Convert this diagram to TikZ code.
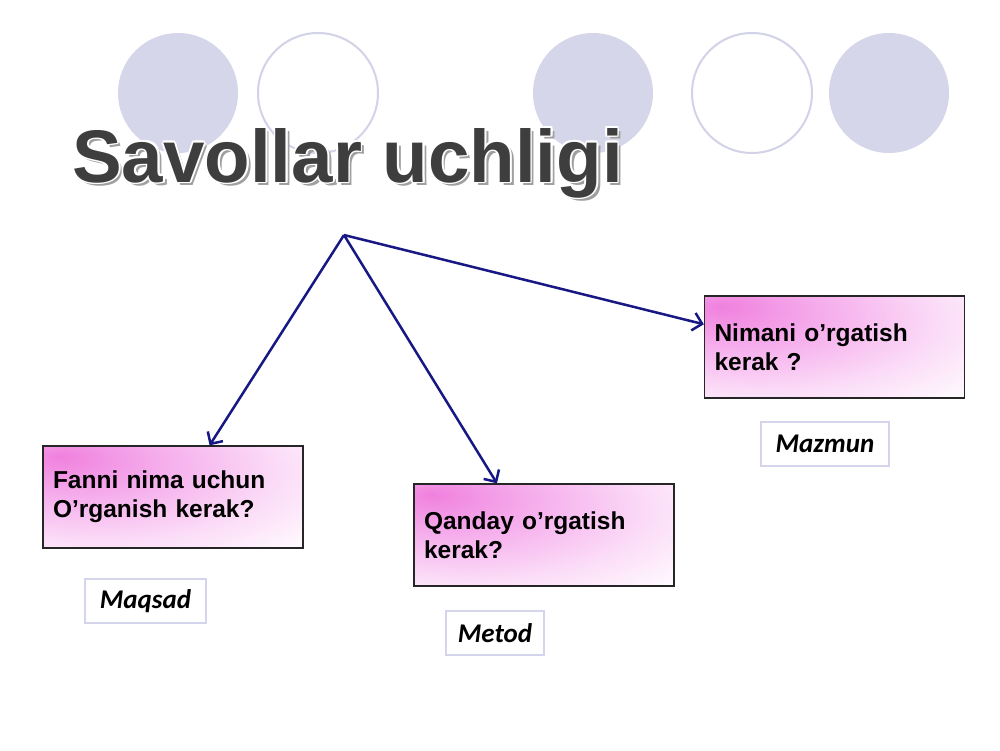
\documentclass[tikz,border=0pt]{standalone}
\usepackage{fontspec}
\setmainfont{Liberation Sans}
\newfontfamily\carlito{Carlito}
\usetikzlibrary{arrows.meta,calc}
\definecolor{circfill}{RGB}{214,214,234}
\definecolor{circline}{RGB}{210,210,232}
\definecolor{navyarrow}{RGB}{24,24,132}
\definecolor{titlegray}{RGB}{62,62,62}
\definecolor{shadowgray}{RGB}{160,160,160}
\definecolor{pkA}{RGB}{240,128,222}
\definecolor{pkB}{RGB}{245,170,235}
\definecolor{pkC}{RGB}{251,218,247}
\definecolor{labline}{RGB}{212,212,236}
\pgfdeclareradialshading{boxshade}{\pgfpoint{-22bp}{20bp}}{color(0bp)=(pkA); color(15bp)=(pkB); color(34bp)=(pkC); color(52bp)=(white); color(100bp)=(white)}
\tikzset{
  qbox/.style={draw=black!85, line width=1.3pt, shading=boxshade, minimum width=260pt, minimum height=102pt, text width=240pt, align=left, inner xsep=10pt, font=\bfseries\fontsize{24.5}{29}\selectfont},
  lbox/.style={draw=labline, line width=2pt, fill=white, font=\carlito\bfseries\itshape\fontsize{27}{30}\selectfont, inner sep=0pt, minimum height=44pt},
  arr/.style={draw=navyarrow, line width=2.5pt, -{Straight Barb[length=9pt,width=18pt]}},
  circ/.style={fill=circfill},
  ring/.style={draw=circline, line width=2pt},
  titlefont/.style={font=\bfseries\fontsize{74.5}{80}\selectfont, inner sep=0pt, anchor=base west},
}
\begin{document}
\begin{tikzpicture}[x=1pt,y=-1pt]
\useasboundingbox (0,0) rectangle (1000,750);
\fill[white] (0,0) rectangle (1000,750);
% decorative circles
\fill[circ] (178,93) circle[radius=60];
\draw[ring] (318,93) circle[radius=60];
\fill[circ] (593,93) circle[radius=60];
\draw[ring] (752,93) circle[radius=60];
\fill[circ] (889,93) circle[radius=60];
% title: shadow, white outline, fill
\node[titlefont, text=shadowgray] (tshadow) at (75.5,185.5) {Savollar uchligi};
\foreach \dx/\dy [count=\i] in {1.8/0, -1.8/0, 0/1.8, 0/-1.8, 1.3/1.3, -1.3/1.3, 1.3/-1.3, -1.3/-1.3}
  \node[titlefont, text=white] (tw\i) at ({72+\dx},{182+\dy}) {Savollar uchligi};
\node[titlefont, text=titlegray] (title) at (72,182) {Savollar uchligi};
% question boxes
\node[qbox] (b1) at (173,497) {Fanni nima uchun\\O’rganish kerak?};
\node[qbox] (b2) at (544,535) {Qanday o’rgatish\\kerak?};
\node[qbox] (b3) at (834.5,347) {Nimani o’rgatish\\kerak ?};
% label boxes
\node[lbox, minimum width=121pt] (l1) at (145.5,601) {Maqsad};
\node[lbox, minimum width=98pt] (l2) at (495,633) {Metod};
\node[lbox, minimum width=128pt] (l3) at (825,444) {Mazmun};
% arrows
\coordinate (o) at (344,235);
\draw[arr] (o) -- ($(b1.north west)!0.64!(b1.north east)$);
\draw[arr] (o) -- ($(b2.north west)!0.32!(b2.north east)$);
\draw[arr] (o) -- ($(b3.north west)!0.28!(b3.south west)$);
\end{tikzpicture}
\end{document}
